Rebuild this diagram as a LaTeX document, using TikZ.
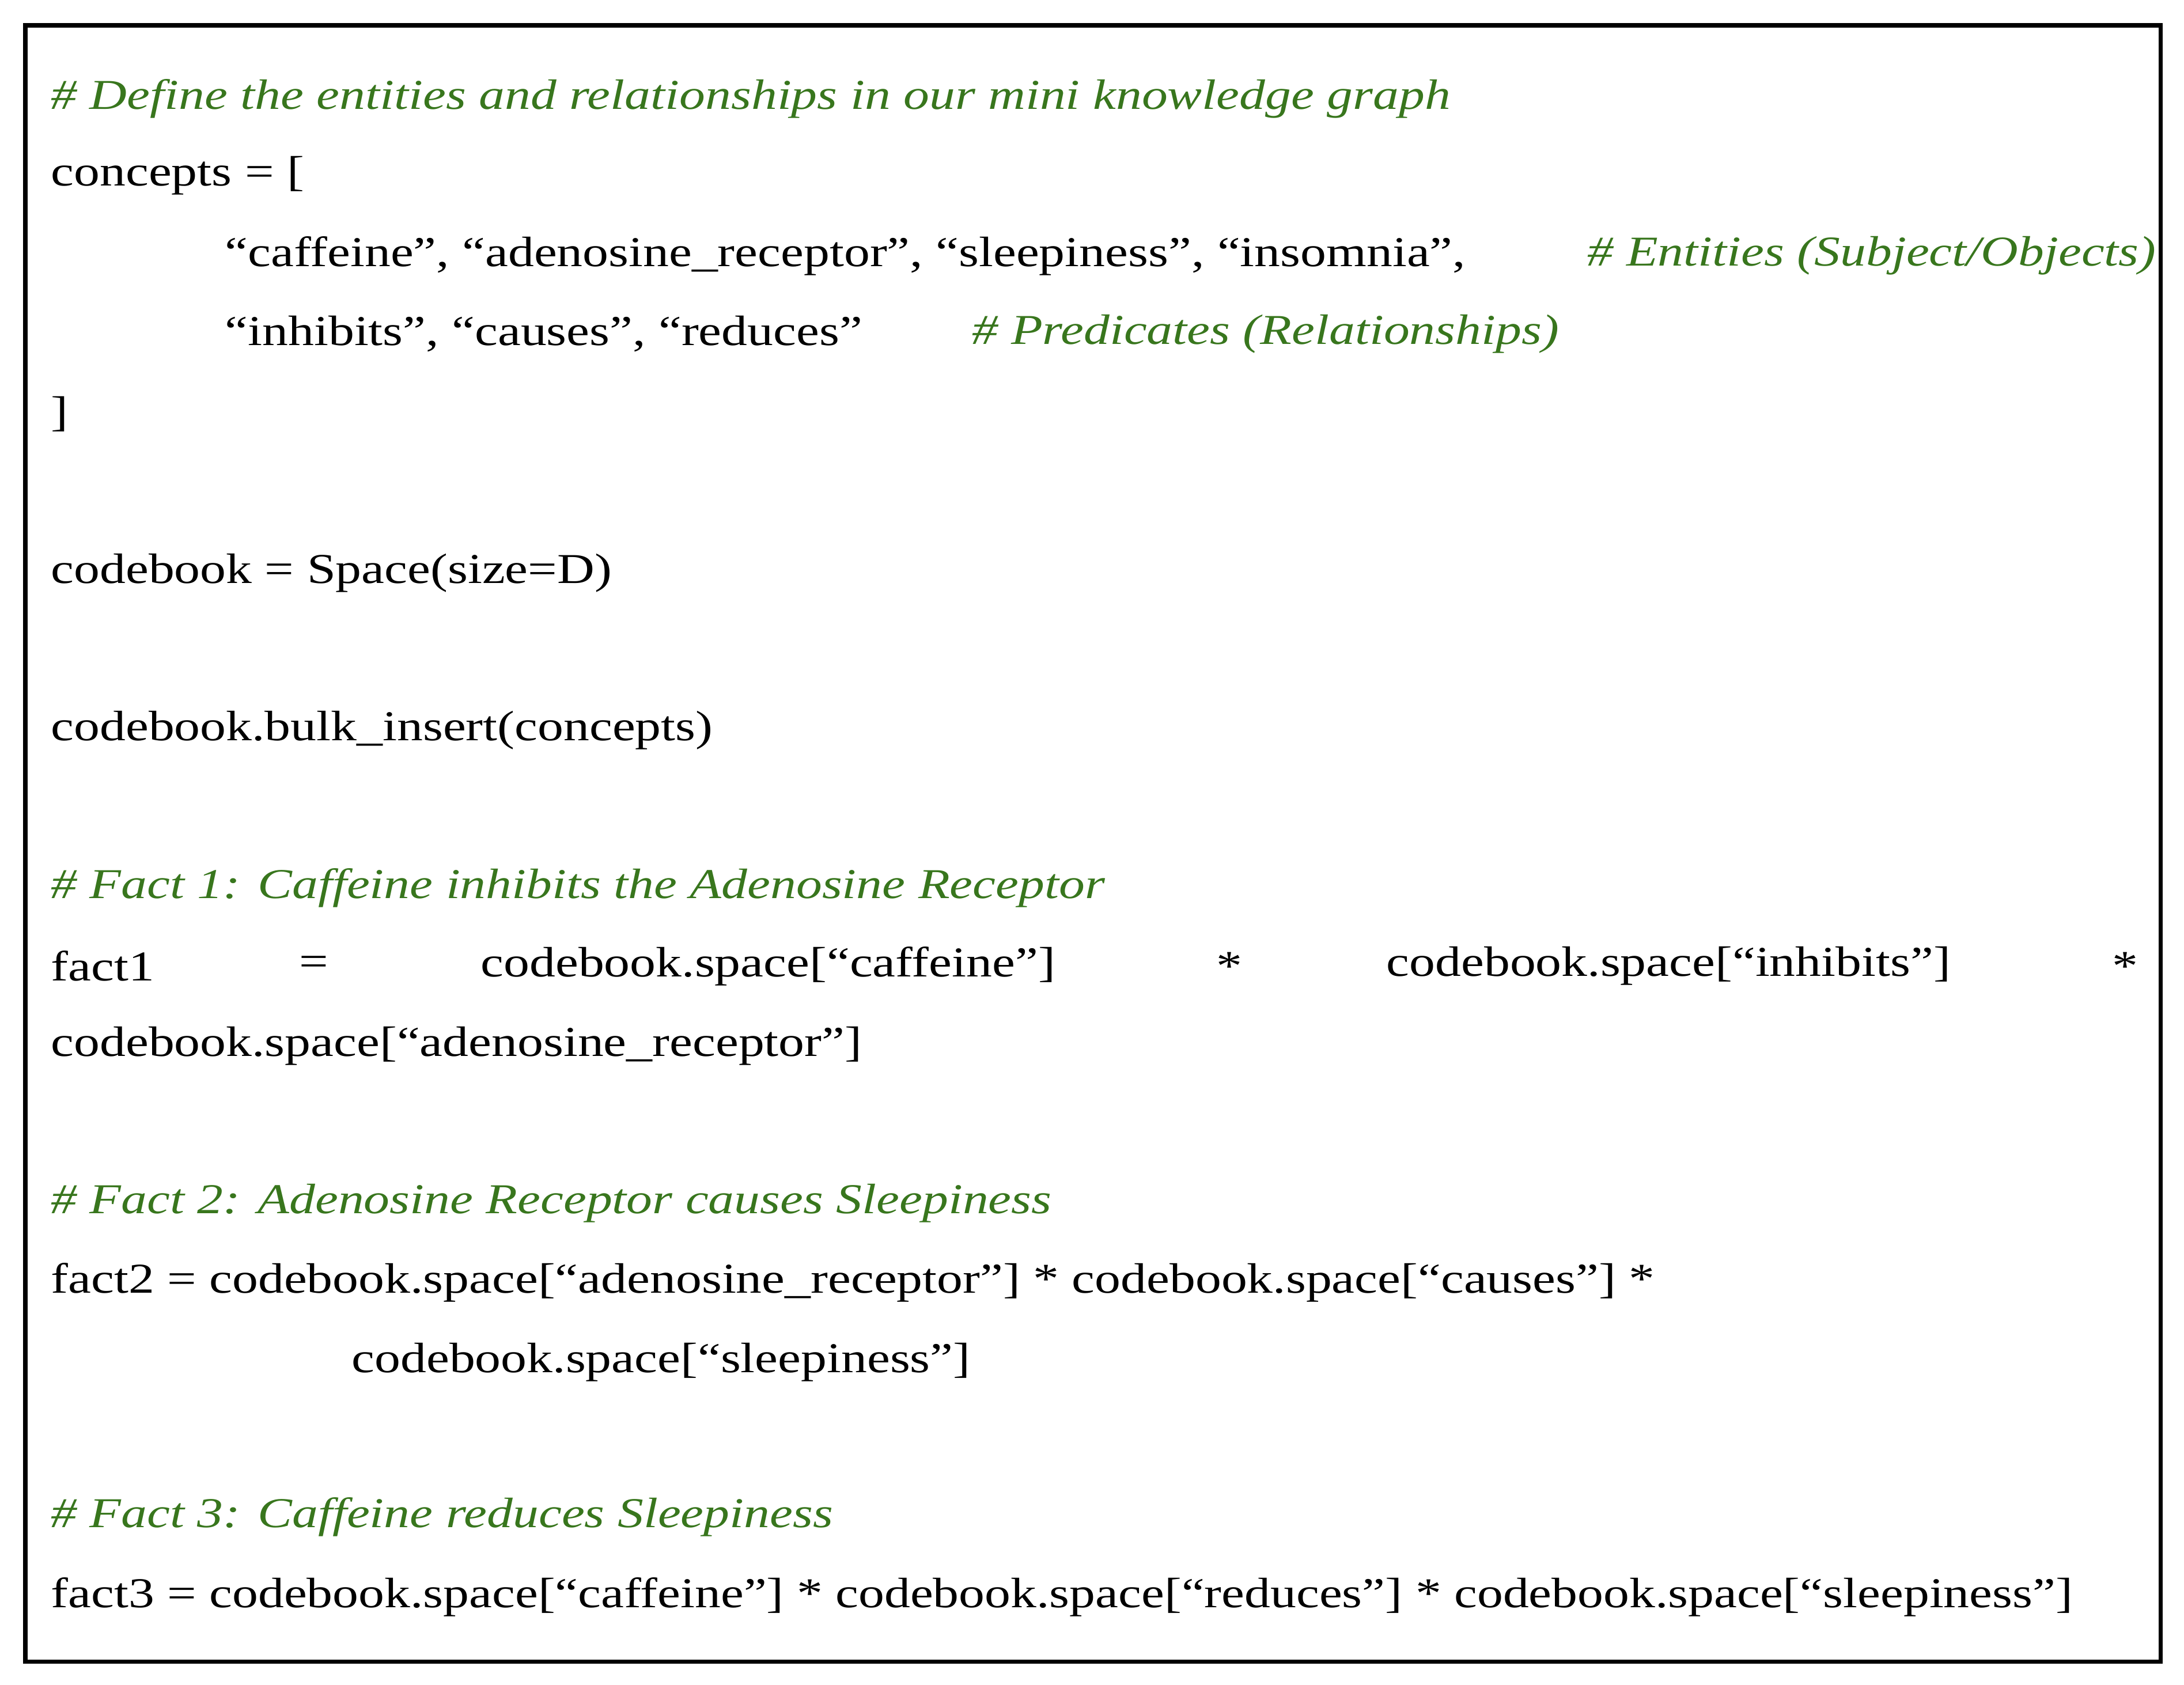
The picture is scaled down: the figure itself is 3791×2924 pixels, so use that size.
\documentclass[tikz,border=0pt]{standalone}
\usepackage{fontspec}
\setmainfont{Liberation Serif}[FakeStretch=1.215]
\definecolor{cmt}{RGB}{56,118,29}
\begin{document}
\begin{tikzpicture}[x=0.01cm,y=-0.01cm,
  t/.style={anchor=west,inner sep=0pt,font=\fontsize{21}{25}\selectfont},
  c/.style={t,text=cmt,font=\fontsize{21}{25}\selectfont\itshape}]
\useasboundingbox (0,0) rectangle (3791,2924);
\draw[line width=2pt] (44,44) rectangle (3750,2884);
\node[c] (l1) at (88,171) {\# Define the entities and relationships in our mini knowledge graph};
\node[t] (l2) at (88,305) {concepts = [};
\node[t] (l3) at (390,444) {“caffeine”, “adenosine\_receptor”, “sleepiness”, “insomnia”,};
\node[c] (l3c) at (2755,444) {\# Entities (Subject/Objects)};
\node[t] (l4) at (390,580) {“inhibits”, “causes”, “reduces”};
\node[c] (l4c) at (1687,580) {\# Predicates (Relationships)};
\node[t] (l5) at (88,719) {]};
\node[t] (l6) at (88,995) {codebook = Space(size=D)};
\node[t] (l7) at (88,1268) {codebook.bulk\_insert(concepts)};
\node[c] (l8) at (88,1541) {\# Fact 1: Caffeine inhibits the Adenosine Receptor};
\node[t] (f1a) at (88,1677) {fact1};
\node[t] (f1b) at (519,1677) {=};
\node[t] (f1c) at (834,1677) {codebook.space[“caffeine”]};
\node[t] (f1d) at (2111,1677) {*};
\node[t] (f1e) at (2406,1677) {codebook.space[“inhibits”]};
\node[t] (f1f) at (3666,1677) {*};
\node[t] (l10) at (88,1816) {codebook.space[“adenosine\_receptor”]};
\node[c] (l11) at (88,2089) {\# Fact 2: Adenosine Receptor causes Sleepiness};
\node[t] (l12) at (88,2226) {fact2 = codebook.space[“adenosine\_receptor”] * codebook.space[“causes”] *};
\node[t] (l13) at (610,2365) {codebook.space[“sleepiness”]};
\node[c] (l14) at (88,2633) {\# Fact 3: Caffeine reduces Sleepiness};
\node[t] (l15) at (88,2772) {fact3 = codebook.space[“caffeine”] * codebook.space[“reduces”] * codebook.space[“sleepiness”]};
\end{tikzpicture}
\end{document}
